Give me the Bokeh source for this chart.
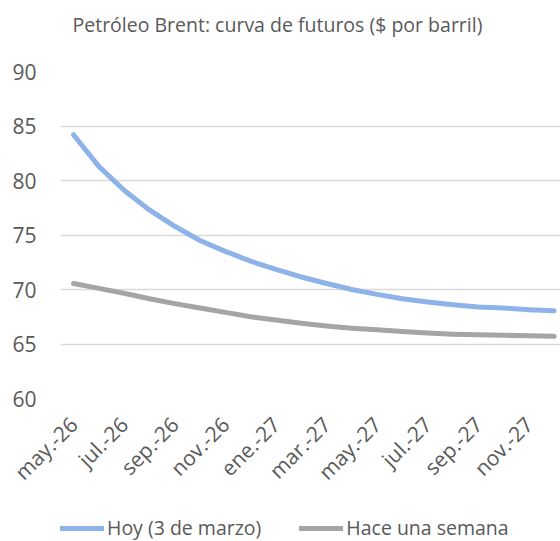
from bokeh.plotting import figure
from bokeh.layouts import column
from bokeh.models import Range1d, FixedTicker, Legend, LegendItem, Title
from bokeh.embed import file_html
from bokeh.resources import INLINE

months = ["may.-26", "jun.-26", "jul.-26", "ago.-26", "sep.-26", "oct.-26", "nov.-26", "dic.-26",
          "ene.-27", "feb.-27", "mar.-27", "abr.-27", "may.-27", "jun.-27", "jul.-27", "ago.-27",
          "sep.-27", "oct.-27", "nov.-27", "dic.-27"]
hoy = [84.2, 81.3, 79.1, 77.3, 75.8, 74.5, 73.5, 72.6, 71.85, 71.15,
       70.55, 70.0, 69.55, 69.15, 68.85, 68.6, 68.4, 68.3, 68.15, 68.05]
semana = [70.55, 70.1, 69.65, 69.15, 68.7, 68.3, 67.9, 67.5, 67.2, 66.9,
          66.65, 66.45, 66.3, 66.15, 66.0, 65.9, 65.85, 65.8, 65.75, 65.7]
y_ticks = [60, 65, 70, 75, 80, 85, 90]
title_text = "Petróleo Brent: curva de futuros ($ por barril)"
names = ["Hoy (3 de marzo)", "Hace una semana"]

FONT = "Open Sans"
TXT = "#595959"
FS = "19.5px"
FS_TICK = "21px"
BLUE = "#8DB3E8"
GREY = "#A5A5A5"
x = list(range(len(months)))

p = figure(width=560, height=504, output_backend="svg", toolbar_location=None,
           x_range=Range1d(-0.514, 19.25), y_range=Range1d(60, 90),
           min_border_left=60, min_border_right=0, min_border_top=71, min_border_bottom=106)
p.outline_line_color = None
p.background_fill_color = "white"

# empty spacer panel between the frame and the title
p.add_layout(Title(text=" ", text_font=FONT, text_font_size=FS, standoff=0), "above")

p.title.text = title_text
p.title.align = "left"
p.title.offset = 12
p.title.standoff = 10
p.title.text_font = FONT
p.title.text_font_size = FS
p.title.text_font_style = "normal"
p.title.text_color = TXT

p.xgrid.visible = False
p.ygrid.grid_line_color = "#D9D9D9"
p.ygrid.grid_line_width = 1.5
p.yaxis.ticker = FixedTicker(ticks=y_ticks)
p.xaxis.ticker = FixedTicker(ticks=x[::2])
p.xaxis.major_label_overrides = {i: months[i] for i in x}

for ax in (p.xaxis, p.yaxis):
    ax.axis_line_color = None
    ax.major_tick_line_color = None
    ax.minor_tick_line_color = None
    ax.major_label_text_font = FONT
    ax.major_label_text_font_size = FS_TICK
    ax.major_label_text_color = TXT
p.yaxis.major_label_standoff = 18
p.xaxis.major_label_standoff = 16
p.xaxis.major_label_orientation = 0.785398

p.line(x, hoy, line_color=BLUE, line_width=5, line_cap="round", line_join="round")
p.line(x, semana, line_color=GREY, line_width=5, line_cap="round", line_join="round")

# legend strip below the chart (renderers hold no visible points; they only style the keys)
pl = figure(width=560, height=37, output_backend="svg", toolbar_location=None,
            x_range=Range1d(0, 1), y_range=Range1d(0, 1),
            min_border_left=0, min_border_right=0, min_border_top=0, min_border_bottom=0)
pl.outline_line_color = None
pl.axis.visible = False
pl.grid.visible = False
nan = float("nan")
l1 = pl.line([nan], [nan], line_color=BLUE, line_width=5, line_cap="round")
l2 = pl.line([nan], [nan], line_color=GREY, line_width=5, line_cap="round")
legend = Legend(items=[LegendItem(label=names[0], renderers=[l1]),
                       LegendItem(label=names[1], renderers=[l2])],
                orientation="horizontal", location=(0, 0),
                glyph_width=44, glyph_height=20, label_height=20, label_standoff=3, spacing=38,
                padding=0, margin=0, border_line_color=None, background_fill_alpha=0,
                label_text_font=FONT, label_text_font_size=FS, label_text_color=TXT,
                label_text_baseline="middle")
pl.add_layout(legend)

open("out.html", "w").write(file_html(column(p, pl), INLINE))
